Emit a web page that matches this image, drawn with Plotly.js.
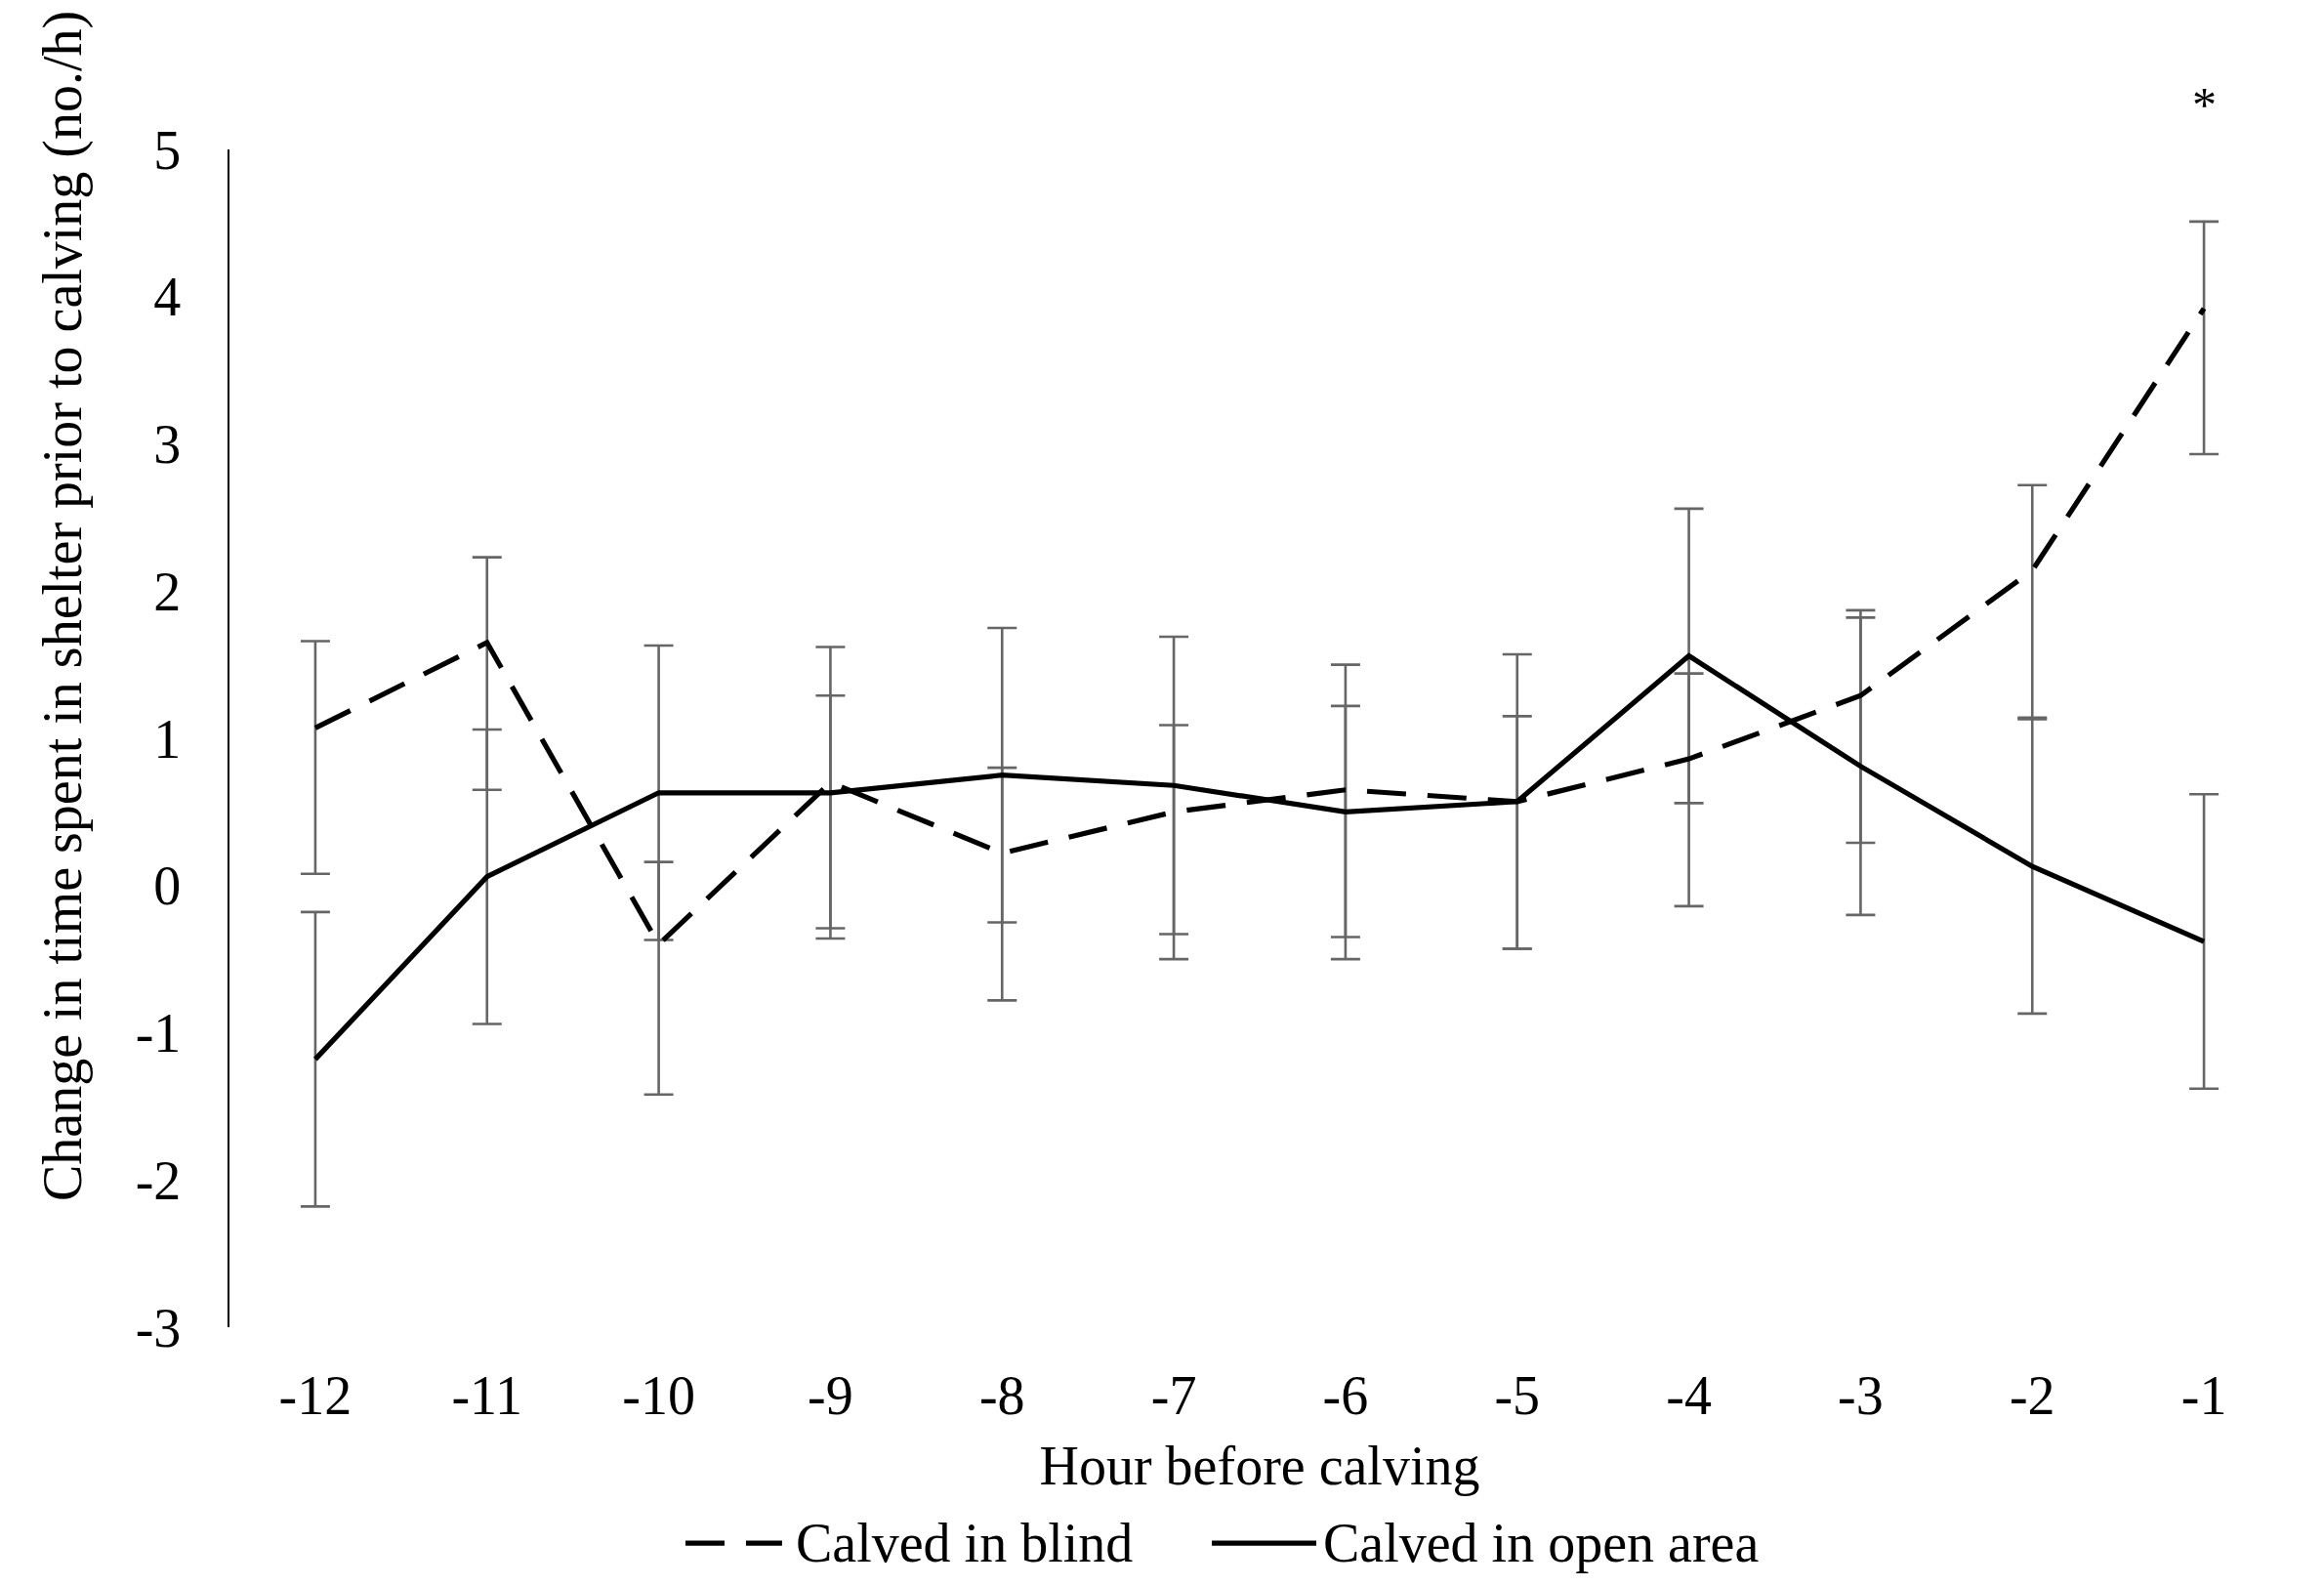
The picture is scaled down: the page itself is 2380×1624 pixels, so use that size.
<!DOCTYPE html>
<html>
<head>
<meta charset="utf-8">
<script src="https://cdn.plot.ly/plotly-3.0.1.min.js"></script>
<style>
  html, body { margin: 0; padding: 0; background: #ffffff; }
  #chart { width: 2380px; height: 1624px; }
</style>
</head>
<body>
<div id="chart"></div>
<script>
// ---- Data ----
const hours = [-12, -11, -10, -9, -8, -7, -6, -5, -4, -3, -2, -1];
const xTickLabels = ['-12', '-11', '-10', '-9', '-8', '-7', '-6', '-5', '-4', '-3', '-2', '-1'];
const yTickVals = [-3, -2, -1, 0, 1, 2, 3, 4, 5];
const yTickLabels = ['-3', '-2', '-1', '0', '1', '2', '3', '4', '5'];

const seriesNames = ['Calved in blind', 'Calved in open area'];

const blindMean = [1.07, 1.65, -0.40, 0.70, 0.22, 0.50, 0.65, 0.57, 0.86, 1.29, 2.14, 3.92];
const blindErrPlus = [0.59, 0.58, 0.56, 0.59, 0.58, 0.59, 0.57, 0.58, 0.58, 0.58, 0.58, 0.59];
const blindErrMinus = [0.99, 1.00, 1.02, 0.99, 1.00, 1.00, 1.00, 1.00, 1.00, 1.00, 1.00, 0.99];

const openMean = [-1.18, 0.06, 0.63, 0.63, 0.75, 0.68, 0.50, 0.57, 1.56, 0.81, 0.13, -0.38];
const openErr = [1.00, 1.00, 1.00, 0.99, 1.00, 1.01, 1.00, 1.00, 1.00, 1.01, 1.00, 1.00];

const xTitle = 'Hour before calving';
const yTitle = 'Change in time spent in shelter prior to calving (no./h)';
const sigHour = -1;
const sigY = 5.34;
const sigLabel = '*';

// ---- Styles ----
const FONT = '"Liberation Serif", "Times New Roman", Times, serif';
const FS = 56;
const errColor = '#666666';
const yRange = [-3, 5];
const DASH = '40px,22px';
const LW = 5.2;

function errTrace(y, errObj) {
  return {
    x: hours, y: y, type: 'scatter', mode: 'markers',
    marker: { size: 1, color: 'rgba(0,0,0,0)' },
    error_y: Object.assign({ type: 'data', visible: true, color: errColor, thickness: 2.6, width: 15 }, errObj),
    showlegend: false, hoverinfo: 'skip'
  };
}

const traces = [
  errTrace(blindMean, { symmetric: false, array: blindErrPlus, arrayminus: blindErrMinus }),
  errTrace(openMean, { symmetric: true, array: openErr }),
  {
    x: hours, y: blindMean, type: 'scatter', mode: 'lines', name: seriesNames[0],
    line: { color: '#000000', width: LW, dash: DASH }, showlegend: false
  },
  {
    x: hours, y: openMean, type: 'scatter', mode: 'lines', name: seriesNames[1],
    line: { color: '#000000', width: LW }, showlegend: false
  }
];

// legend drawn below the plot (sample line + label for each series)
const legY = -0.1833;
const legendItems = [
  { x0: 0.2213, x1: 0.2682, tx: 0.2739, dash: DASH, name: seriesNames[0] },
  { x0: 0.4768, x1: 0.5275, tx: 0.5300, dash: 'solid', name: seriesNames[1] }
];
const shapes = legendItems.map(it => ({
  type: 'line', xref: 'paper', yref: 'paper', x0: it.x0, x1: it.x1, y0: legY, y1: legY,
  line: { color: '#000000', width: LW, dash: it.dash }
}));
const legendAnn = legendItems.map(it => ({
  xref: 'paper', yref: 'paper', x: it.tx, y: legY, xanchor: 'left', yanchor: 'middle',
  text: it.name, showarrow: false, font: { family: FONT, size: FS, color: '#000000' }
}));

const layout = {
  width: 2380, height: 1624,
  margin: { l: 235, r: 35, t: 153, b: 265, pad: 0 },
  paper_bgcolor: '#ffffff', plot_bgcolor: '#ffffff',
  font: { family: FONT, size: FS, color: '#000000' },
  showlegend: false,
  xaxis: {
    range: [-12.5, -0.5],
    tickmode: 'array', tickvals: hours, ticktext: xTickLabels,
    showline: false, showgrid: false, zeroline: false, ticks: '',
    ticklabelstandoff: 32,
    tickfont: { family: FONT, size: FS, color: '#000000' },
    title: { text: xTitle, font: { family: FONT, size: FS, color: '#000000' }, standoff: 21 },
    fixedrange: true
  },
  yaxis: {
    range: yRange,
    tickmode: 'array', tickvals: yTickVals, ticktext: yTickLabels,
    showline: true, linecolor: '#000000', linewidth: 2.5,
    showgrid: false, zeroline: false, ticks: '',
    ticklabelstandoff: 36,
    tickfont: { family: FONT, size: FS, color: '#000000' },
    fixedrange: true
  },
  shapes: shapes,
  annotations: [
    {
      xref: 'paper', yref: 'paper', x: -0.0805, y: 0.612,
      xanchor: 'center', yanchor: 'middle', textangle: -90,
      text: yTitle, showarrow: false,
      font: { family: FONT, size: FS, color: '#000000' }
    },
    {
      xref: 'x', yref: 'paper', x: sigHour, y: (sigY - yRange[0]) / (yRange[1] - yRange[0]), yshift: -5,
      xanchor: 'center', yanchor: 'middle',
      text: sigLabel, showarrow: false,
      font: { family: FONT, size: 50, color: '#000000' }
    }
  ].concat(legendAnn)
};

Plotly.newPlot('chart', traces, layout, { displayModeBar: false, staticPlot: true });
</script>
</body>
</html>
